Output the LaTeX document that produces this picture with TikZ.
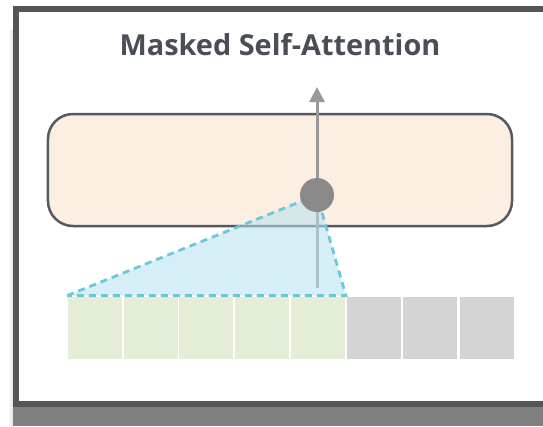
\documentclass[tikz,border=0pt]{standalone}
\usepackage{fontspec}
\setmainfont{Open Sans}
\usetikzlibrary{arrows.meta}
\definecolor{frameC}{HTML}{555555}
\definecolor{shadowC}{HTML}{808080}
\definecolor{titleC}{HTML}{4A4F57}
\definecolor{boxFill}{HTML}{FCEEE0}
\definecolor{boxLine}{HTML}{545A62}
\definecolor{flowC}{HTML}{999999}
\definecolor{dotC}{HTML}{8A8A8A}
\definecolor{fanFill}{HTML}{B5E3F0}
\definecolor{fanLine}{HTML}{6CC7DA}
\definecolor{seenC}{HTML}{E4EED6}
\definecolor{maskC}{HTML}{D4D4D4}
\tikzset{
  cell/.style={minimum width=55bp, minimum height=63bp, inner sep=0pt, draw=white, line width=0.8bp},
  seen/.style={cell, fill=seenC},
  masked/.style={cell, fill=maskC},
  flow/.style={draw=flowC, line width=3bp},
  fan/.style={draw=fanLine, line width=2.8bp, dash pattern=on 7bp off 5bp, fill=fanFill, fill opacity=0.55, draw opacity=1},
}
\begin{document}
\begin{tikzpicture}[x=1bp, y=-1bp]
  \useasboundingbox (0,0) rectangle (543,426);
  \fill[white] (0,0) rectangle (543,426);
  % soft shadow left of the card
  \shade[left color=white, right color=black!12] (8,30) rectangle (13,426);
  % card shadow underneath
  \fill[shadowC] (13,406) rectangle (543,426);
  % card frame
  \fill[frameC] (13,6) rectangle (543,407);
  \fill[white] (19,12) rectangle (543,401);

  % title
  \node[font=\bfseries\fontsize{29}{32}\selectfont, text=titleC, anchor=base] (title) at (280,55) {Masked Self-Attention};

  % self-attention layer
  \node[draw=boxLine, line width=2.5bp, fill=boxFill, rounded corners=25bp,
        minimum width=464bp, minimum height=112bp, inner sep=0pt] (layer) at (280,170) {};

  % token cells
  \node[seen]   (c1) at (95,327.5) {};
  \node[seen]   (c2) at (150.5,327.5) {};
  \node[seen]   (c3) at (206,327.5) {};
  \node[seen]   (c4) at (262,327.5) {};
  \node[seen]   (c5) at (318,327.5) {};
  \node[masked] (c6) at (374,327.5) {};
  \node[masked] (c7) at (430,327.5) {};
  \node[masked] (c8) at (486.5,327.5) {};

  % output position and flow
  \coordinate (dotc) at (317,195);
  \coordinate (foot) at (317,288);
  \coordinate (tip) at (317,87);
  \draw[flow] (foot) -- (dotc);

  % attention fan over the visible tokens
  \path[fan] (c1.north west) -- (dotc) -- (c5.north east) -- cycle;

  \node[circle, fill=dotC, minimum size=34bp, inner sep=0pt] (dot) at (dotc) {};
  \draw[flow, -{Triangle[length=15bp, width=15bp]}] (dot.north) -- (tip);
\end{tikzpicture}
\end{document}
